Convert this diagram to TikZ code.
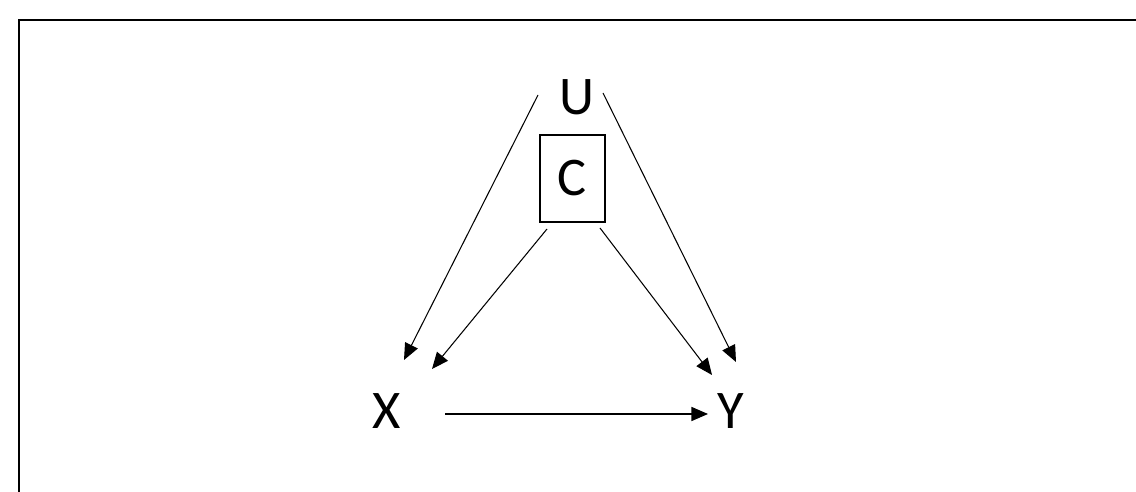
\documentclass[tikz,border=0pt]{standalone}
\usepackage{fontspec}
\setmainfont{Carlito}
\usetikzlibrary{arrows.meta}

\begin{document}
\begin{tikzpicture}[x=0.02cm, y=-0.02cm,
                    var/.style={font=\fontsize{31}{36}\selectfont, inner sep=0pt},
                    adj/.style={var, draw, line width=0.6pt, minimum width=1.3cm, minimum height=1.74cm},
                    link/.style={->, line width=0.6pt},
                    >={Triangle[length=9.4pt, width=8pt]}]
  \useasboundingbox (0,0) rectangle (1136,492);
  % frame: only its top and left sides fall on the page
  \draw[line width=1.1pt] (1136,20) -- (19,20) -- (19,492);

  \node[var] (U) at (577,97)    {U};
  \node[adj] (C) at (572.5,178.5) {C};
  \node[var] (X) at (387,411)   {X};
  \node[var] (Y) at (731,411)   {Y};

  % confounders into both ends
  \draw[link] ([shift={(-39,-2)}]U.center) -- ([shift={(17,-51)}]X.center);
  \draw[link] ([shift={(26,-4)}]U.center)  -- ([shift={(5,-49)}]Y.center);
  \draw[link] ([shift={(-25.5,50.5)}]C.center) -- ([shift={(45,-42)}]X.center);
  \draw[link] ([shift={(27.5,49.5)}]C.center)  -- ([shift={(-19,-36)}]Y.center);
  \draw[link] ([shift={(58,3)}]X.center) -- ([shift={(-23,3)}]Y.center);
\end{tikzpicture}
\end{document}
